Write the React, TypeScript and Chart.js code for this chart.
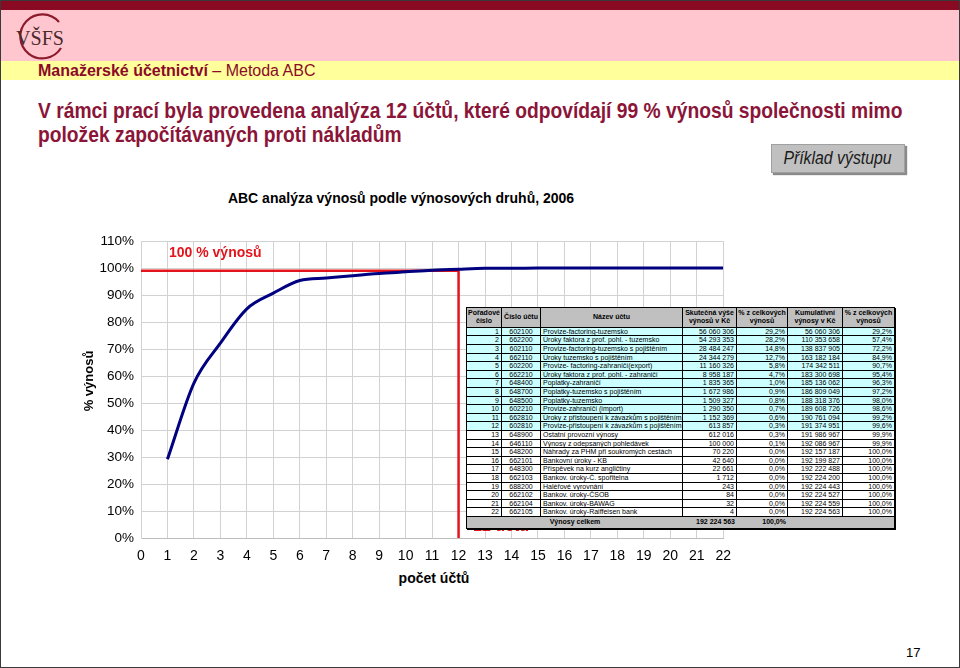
import React, { useEffect, useRef } from "react";
import { Chart, registerables } from "chart.js";

Chart.register(...registerables);

// ---------- data ----------
const poradi = [1, 2, 3, 4, 5, 6, 7, 8, 9, 10, 11, 12, 13, 14, 15, 16, 17, 18, 19, 20, 21, 22];
const cislaUctu = [
  "602100", "662200", "602110", "662110", "602200", "662210", "648400", "648700", "648500", "602210", "662810",
  "602810", "648900", "646110", "648200", "662101", "648300", "662103", "688200", "662102", "662104", "662105",
];
const nazvyUctu = [
  "Provize-factoring-tuzemsko",
  "Úroky faktora z prof. pohl. - tuzemsko",
  "Provize-factoring-tuzemsko s pojištěním",
  "Úroky tuzemsko s pojištěním",
  "Provize- factoring-zahraničí(export)",
  "Úroky faktora z prof. pohl. - zahraničí",
  "Poplatky-zahraničí",
  "Poplatky-tuzemsko s pojištěním",
  "Poplatky-tuzemsko",
  "Provize-zahraničí (import)",
  "Úroky z přistoupení k závazkům s pojištěním",
  "Provize-přistoupení k závazkům s pojištěním",
  "Ostatní provozní výnosy",
  "Výnosy  z odepsaných pohledávek",
  "Náhrady za PHM při soukromých cestách",
  "Bankovní úroky - KB",
  "Příspěvek na kurz angličtiny",
  "Bankov. úroky-Č. spořitelna",
  "Haléřové vyrovnání",
  "Bankov. úroky-ČSOB",
  "Bankov. úroky-BAWAG",
  "Bankov. úroky-Raiffeisen bank",
];
const vynosy = [
  56060306, 54293353, 28484247, 24344279, 11160326, 8958187, 1835365, 1672986, 1509327, 1290350, 1152369,
  613857, 612016, 100000, 70220, 42640, 22661, 1712, 243, 84, 32, 4,
];
const podilPct = [29.2, 28.2, 14.8, 12.7, 5.8, 4.7, 1.0, 0.9, 0.8, 0.7, 0.6, 0.3, 0.3, 0.1, 0.0, 0.0, 0.0, 0.0, 0.0, 0.0, 0.0, 0.0];
const kumulVynosy = [
  56060306, 110353658, 138837905, 163182184, 174342511, 183300698, 185136062, 186809049, 188318376, 189608726,
  190761094, 191374951, 191986967, 192086967, 192157187, 192199827, 192222488, 192224200, 192224443, 192224527,
  192224559, 192224563,
];
const kumulPct = [
  29.2, 57.4, 72.2, 84.9, 90.7, 95.4, 96.3, 97.2, 98.0, 98.6, 99.2, 99.6, 99.9, 99.9, 100.0, 100.0, 100.0, 100.0,
  100.0, 100.0, 100.0, 100.0,
];
const vynosyCelkem = 192224563;
const podilCelkem = 100.0;

// red marker line: 99 % reached at 12 accounts
const hraniceX = [0, 12, 12];
const hraniceY = [99, 99, 0];

const xTicksMax = 22;
const yTicksMax = 110;

// ---------- helpers ----------
const fmtNum = (n: number) => n.toString().replace(/\B(?=(\d{3})+(?!\d))/g, " ");
const fmtPct = (n: number) => n.toFixed(1).replace(".", ",") + "%";

const FONT = '"Liberation Sans", Arial, Helvetica, sans-serif';
const colW = [35, 39, 142, 54, 51, 55, 51];

function ChartCanvas() {
  const ref = useRef<HTMLCanvasElement | null>(null);
  useEffect(() => {
    if (!ref.current) return;
    const chart = new Chart(ref.current, {
      type: "scatter",
      data: {
        datasets: [
          {
            data: poradi.map((p, i) => ({ x: p, y: kumulPct[i] })),
            showLine: true,
            borderColor: "#000080",
            backgroundColor: "#000080",
            borderWidth: 3,
            pointRadius: 0,
            cubicInterpolationMode: "monotone",
          },
          {
            data: hraniceX.map((x, i) => ({ x, y: hraniceY[i] })),
            showLine: true,
            borderColor: "#e3141b",
            backgroundColor: "#e3141b",
            borderWidth: 2.5,
            pointRadius: 0,
            tension: 0,
          },
        ],
      },
      options: {
        animation: false,
        responsive: false,
        devicePixelRatio: 1,
        layout: { padding: { left: 0, right: 16, top: 9, bottom: 0 } },
        plugins: { legend: { display: false }, tooltip: { enabled: false } },
        scales: {
          x: {
            type: "linear",
            min: 0,
            max: xTicksMax,
            ticks: { stepSize: 1, color: "#000", font: { family: FONT, size: 14 }, padding: 10 },
            grid: { color: "#d2d2d2", drawTicks: false },
            border: { color: "#bdbdbd" },
            afterFit: (a: any) => {
              a.height = 30;
            },
          },
          y: {
            min: 0,
            max: yTicksMax,
            ticks: {
              stepSize: 10,
              color: "#000",
              font: { family: FONT, size: 13.5 },
              padding: 7,
              callback: (v: any) => v + "%",
            },
            grid: { color: "#d2d2d2", drawTicks: false },
            border: { color: "#d2d2d2" },
            afterFit: (a: any) => {
              a.width = 80;
            },
          },
        },
      },
    } as any);
    return () => chart.destroy();
  }, []);
  return (
    <canvas
      ref={ref}
      width={680}
      height={342}
      style={{ position: "absolute", left: 60, top: 225, width: 680, height: 342 }}
    />
  );
}

function Cell(props: { w: number; align: "left" | "right" | "center"; last?: boolean; bold?: boolean; children?: any }) {
  return (
    <div
      style={{
        width: props.w,
        boxSizing: "border-box",
        borderRight: props.last ? "none" : "1px solid #000",
        textAlign: props.align,
        padding: "0 2px",
        whiteSpace: "nowrap",
        overflow: "hidden",
        fontWeight: props.bold ? "bold" : "normal",
      }}
    >
      {props.children}
    </div>
  );
}

function DataTable() {
  const rowH = 8.62;
  const headers = ["Pořadové\nčíslo", "Číslo účtu", "Název účtu", "Skutečná výše\nvýnosů v Kč", "% z celkových\nvýnosů", "Kumulativní\nvýnosy v Kč", "% z celkových\nvýnosů"];
  return (
    <div
      style={{
        position: "absolute",
        left: 465,
        top: 306,
        width: 427,
        border: "1.5px solid #000",
        boxShadow: "1px 1px 0 #000",
        background: "#fff",
        fontFamily: FONT,
        fontSize: 7,
        color: "#000",
        zIndex: 3,
      }}
    >
      <div style={{ display: "flex", height: 19.7, background: "#c0c0c0", borderBottom: "1px solid #000", boxSizing: "border-box" }}>
        {headers.map((h, i) => (
          <div
            key={i}
            style={{
              width: colW[i],
              boxSizing: "border-box",
              borderRight: i === headers.length - 1 ? "none" : "1px solid #000",
              display: "flex",
              alignItems: "center",
              justifyContent: "center",
              textAlign: "center",
              fontWeight: "bold",
              whiteSpace: "pre",
              lineHeight: "8px",
            }}
          >
            {h}
          </div>
        ))}
      </div>
      {poradi.map((p, i) => (
        <div
          key={p}
          style={{
            display: "flex",
            height: rowH,
            lineHeight: rowH - 1 + "px",
            boxSizing: "border-box",
            borderBottom: "1px solid #000",
            background: i < 12 ? "#ccffff" : "#ffffff",
          }}
        >
          <Cell w={colW[0]} align="right">{p}</Cell>
          <Cell w={colW[1]} align="center">{cislaUctu[i]}</Cell>
          <Cell w={colW[2]} align="left">{nazvyUctu[i]}</Cell>
          <Cell w={colW[3]} align="right">{fmtNum(vynosy[i])}</Cell>
          <Cell w={colW[4]} align="right">{fmtPct(podilPct[i])}</Cell>
          <Cell w={colW[5]} align="right">{fmtNum(kumulVynosy[i])}</Cell>
          <Cell w={colW[6]} align="right" last>{fmtPct(kumulPct[i])}</Cell>
        </div>
      ))}
      <div style={{ display: "flex", height: 10.5, lineHeight: "10px", background: "#c0c0c0", fontWeight: "bold" }}>
        <div style={{ width: colW[0] + colW[1] + colW[2], textAlign: "center" }}>Výnosy celkem</div>
        <div style={{ width: colW[3], textAlign: "right", padding: "0 2px", boxSizing: "border-box" }}>{fmtNum(vynosyCelkem)}</div>
        <div style={{ width: colW[4], textAlign: "right", padding: "0 2px", boxSizing: "border-box" }}>{fmtPct(podilCelkem)}</div>
        <div style={{ width: colW[5] + colW[6] }} />
      </div>
    </div>
  );
}

export default function App() {
  return (
    <div
      style={{
        position: "absolute",
        left: 0,
        top: 0,
        width: 960,
        height: 668,
        background: "#fff",
        overflow: "hidden",
        fontFamily: FONT,
        boxSizing: "border-box",
        border: "1px solid #3a3a3a",
      }}
    >
      {/* header bands */}
      <div style={{ position: "absolute", left: 0, top: 0, width: 960, height: 9, background: "#8a0a24" }} />
      <div style={{ position: "absolute", left: 0, top: 9, width: 960, height: 51, background: "#ffc6d0" }} />
      <div style={{ position: "absolute", left: 0, top: 60, width: 960, height: 19, background: "#ffff9c" }} />

      {/* logo */}
      <svg style={{ position: "absolute", left: 14, top: 11 }} width={52} height={50} viewBox="0 0 52 50">
        <path d="M 44 10 A 22 22 0 1 0 46 36" fill="none" stroke="#8b1a2a" strokeWidth={2.2} />
        <text x={25} y={33} textAnchor="middle" fontFamily='"Liberation Serif", "DejaVu Serif", serif' fontSize={20} fill="#4a2a2a">
          VŠFS
        </text>
      </svg>

      <div
        style={{
          position: "absolute",
          left: 37,
          top: 61,
          fontSize: 16,
          lineHeight: "18px",
          color: "#8b0a28",
          whiteSpace: "nowrap",
        }}
      >
        <b>Manažerské účetnictví</b> – Metoda ABC
      </div>

      {/* main heading */}
      <div
        style={{
          position: "absolute",
          left: 37,
          top: 98,
          fontSize: 22,
          lineHeight: "24px",
          fontWeight: "bold",
          color: "#8b1538",
          whiteSpace: "nowrap",
          transform: "scaleX(0.875)",
          transformOrigin: "left top",
        }}
      >
        V rámci prací byla provedena analýza 12 účtů, které odpovídají 99 % výnosů společnosti mimo
        <br />
        položek započítávaných proti nákladům
      </div>

      {/* Příklad výstupu box */}
      <div
        style={{
          position: "absolute",
          left: 770,
          top: 143,
          width: 134,
          height: 29,
          background: "#c0c0c0",
          border: "1px solid #a0a0a0",
          boxShadow: "2px 2px 1px #8a8a8a",
          boxSizing: "border-box",
          display: "flex",
          alignItems: "center",
          justifyContent: "center",
        }}
      >
        <span
          style={{
            fontStyle: "italic",
            fontSize: 18,
            color: "#1a1a1a",
            whiteSpace: "nowrap",
            display: "inline-block",
            transform: "scaleX(0.88)",
          }}
        >
          Příklad výstupu
        </span>
      </div>

      {/* chart title */}
      <div
        style={{
          position: "absolute",
          left: 200,
          width: 400,
          top: 189,
          textAlign: "center",
          fontSize: 14,
          fontWeight: "bold",
          lineHeight: "16px",
          color: "#000",
          whiteSpace: "nowrap",
        }}
      >
        ABC analýza výnosů podle výnosových druhů, 2006
      </div>

      <ChartCanvas />

      {/* annotations */}
      <div
        style={{
          position: "absolute",
          left: 168,
          top: 243,
          fontSize: 14,
          fontWeight: "bold",
          lineHeight: "16px",
          color: "#e3141b",
          whiteSpace: "nowrap",
        }}
      >
        100 % výnosů
      </div>
      <div
        style={{
          position: "absolute",
          left: 472,
          top: 516,
          fontSize: 16,
          fontWeight: "bold",
          lineHeight: "18px",
          color: "#e3141b",
          whiteSpace: "nowrap",
          zIndex: 1,
        }}
      >
        12 účtů
      </div>

      {/* axis titles */}
      <div
        style={{
          position: "absolute",
          left: 28,
          top: 372,
          width: 120,
          textAlign: "center",
          fontSize: 13,
          fontWeight: "bold",
          lineHeight: "16px",
          transform: "rotate(-90deg)",
          transformOrigin: "center center",
          whiteSpace: "nowrap",
        }}
      >
        % výnosů
      </div>
      <div
        style={{
          position: "absolute",
          left: 333,
          width: 200,
          top: 569,
          textAlign: "center",
          fontSize: 14,
          fontWeight: "bold",
          lineHeight: "16px",
          whiteSpace: "nowrap",
        }}
      >
        počet účtů
      </div>

      <DataTable />

      <div style={{ position: "absolute", left: 905, top: 644, fontSize: 13, lineHeight: "15px", color: "#000" }}>17</div>
    </div>
  );
}
